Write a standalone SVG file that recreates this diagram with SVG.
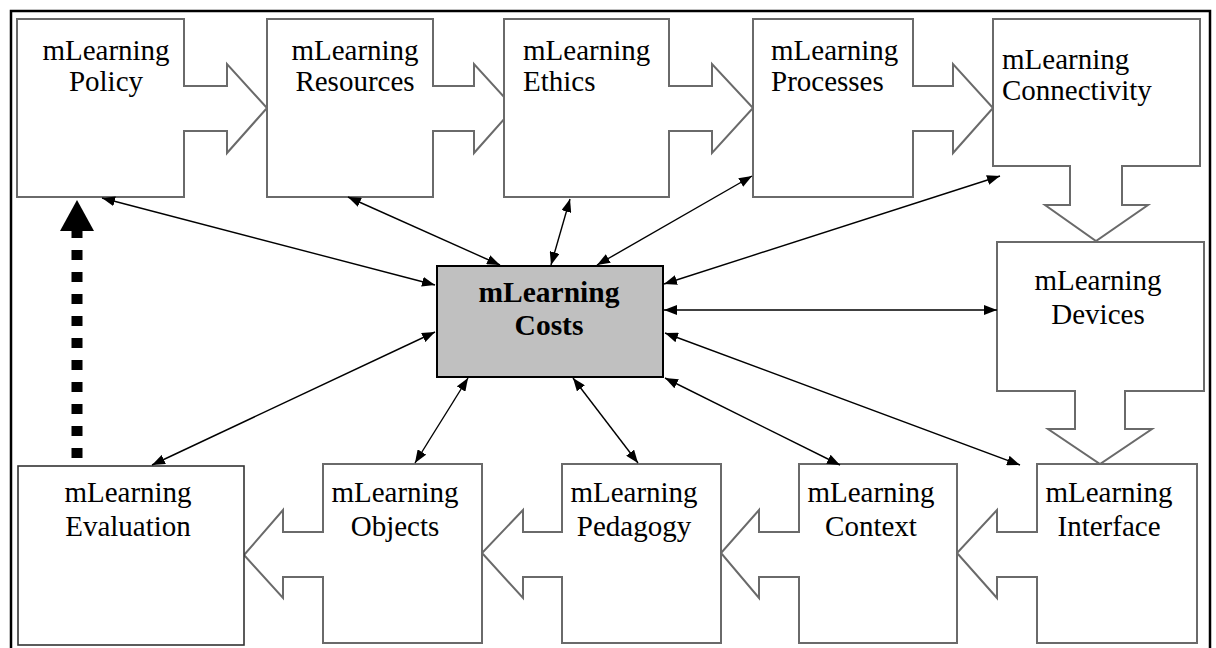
<svg xmlns="http://www.w3.org/2000/svg" width="1216" height="648" viewBox="0 0 1216 648">
<defs>
<style>
.box{fill:#ffffff;stroke:#6a6a6a;stroke-width:2;stroke-linejoin:miter}
.t{font-family:"Liberation Serif","Times New Roman",serif;font-size:29px;fill:#000}
.c{text-anchor:middle}
.b{font-weight:bold;font-size:29.5px}
.con{stroke:#000;stroke-width:1.4;fill:none;marker-start:url(#ah);marker-end:url(#ah)}
</style>
<marker id="ah" viewBox="0 0 13 10" refX="13" refY="5" markerWidth="13" markerHeight="10" markerUnits="userSpaceOnUse" orient="auto-start-reverse">
<path d="M0,0 L13,5 L0,10 z" fill="#000"/>
</marker>
</defs>
<rect x="0" y="0" width="1216" height="648" fill="#fff"/>
<rect x="11" y="11" width="1199" height="645" fill="none" stroke="#000" stroke-width="2.5"/>

<g id="policy">
<path class="box" d="M17,19 H184 V86 H227 V64 L267,108 L227,153 V131 H184 V197 H17 Z"/>
<text class="t c" x="106" y="60">mLearning</text>
<text class="t c" x="106" y="91">Policy</text>
</g>
<g id="resources">
<path class="box" d="M267,19 H433 V86 H474 V64 L514,108 L474,153 V131 H433 V197 H267 Z"/>
<text class="t c" x="355" y="60">mLearning</text>
<text class="t c" x="355" y="91">Resources</text>
</g>
<g id="ethics">
<path class="box" d="M504,19 H669 V86 H712 V64 L753,108 L712,153 V131 H669 V197 H504 Z"/>
<text class="t" x="523" y="60">mLearning</text>
<text class="t" x="523" y="91">Ethics</text>
</g>
<g id="processes">
<path class="box" d="M753,19 H913 V86 H953 V64 L993,108 L953,153 V131 H913 V197 H753 Z"/>
<text class="t" x="771" y="60">mLearning</text>
<text class="t" x="771" y="91">Processes</text>
</g>
<g id="connectivity">
<path class="box" d="M993,19 H1200 V166 H1122 V205 H1148 L1096,241 L1045,205 H1070 V166 H993 Z"/>
<text class="t" x="1002" y="69">mLearning</text>
<text class="t" x="1002" y="100">Connectivity</text>
</g>
<g id="devices">
<path class="box" d="M997,242 H1204 V391 H1125 V429 H1152 L1100,464 L1048,429 H1075 V391 H997 Z"/>
<text class="t c" x="1098" y="290">mLearning</text>
<text class="t c" x="1098" y="324">Devices</text>
</g>
<g id="interface">
<path class="box" d="M1037,464 H1197 V643 H1037 V577 H997 V598 L957,553 L997,510 V532 H1037 Z"/>
<text class="t c" x="1109" y="502">mLearning</text>
<text class="t c" x="1109" y="536">Interface</text>
</g>
<g id="context">
<path class="box" d="M799,464 H957 V643 H799 V577 H759 V598 L721,553 L759,510 V532 H799 Z"/>
<text class="t c" x="871" y="502">mLearning</text>
<text class="t c" x="871" y="536">Context</text>
</g>
<g id="pedagogy">
<path class="box" d="M562,464 H721 V643 H562 V577 H523 V598 L482,553 L523,510 V532 H562 Z"/>
<text class="t c" x="634" y="502">mLearning</text>
<text class="t c" x="634" y="536">Pedagogy</text>
</g>
<g id="objects">
<path class="box" d="M323,464 H482 V643 H323 V577 H283 V598 L244,555 L283,510 V532 H323 Z"/>
<text class="t c" x="395" y="502">mLearning</text>
<text class="t c" x="395" y="536">Objects</text>
</g>
<g id="evaluation">
<rect x="18" y="466" width="226" height="179" fill="#fff" stroke="#333" stroke-width="1.6"/>
<text class="t c" x="128" y="502">mLearning</text>
<text class="t c" x="128" y="536">Evaluation</text>
</g>
<g id="costs">
<rect x="437" y="266" width="226" height="111" fill="#c0c0c0" stroke="#000" stroke-width="2"/>
<text class="t c b" x="549" y="302">mLearning</text>
<text class="t c b" x="549" y="335">Costs</text>
</g>

<g id="connectors">
<line class="con" x1="102" y1="198" x2="435" y2="285"/>
<line class="con" x1="348" y1="197" x2="500" y2="265"/>
<line class="con" x1="570" y1="199" x2="551" y2="265"/>
<line class="con" x1="752" y1="176" x2="597" y2="265"/>
<line class="con" x1="1000" y1="176" x2="664" y2="284"/>
<line class="con" x1="664" y1="310" x2="997" y2="310"/>
<line class="con" x1="665" y1="333" x2="1020" y2="465"/>
<line class="con" x1="665" y1="378" x2="840" y2="465"/>
<line class="con" x1="573" y1="378" x2="638" y2="463"/>
<line class="con" x1="468" y1="378" x2="415" y2="463"/>
<line class="con" x1="435" y1="332" x2="152" y2="465"/>
<line x1="77" y1="458" x2="77" y2="231" stroke="#000" stroke-width="11" stroke-dasharray="10 12"/>
<polygon points="77,200 94,231 60,231" fill="#000"/>
</g>
</svg>
